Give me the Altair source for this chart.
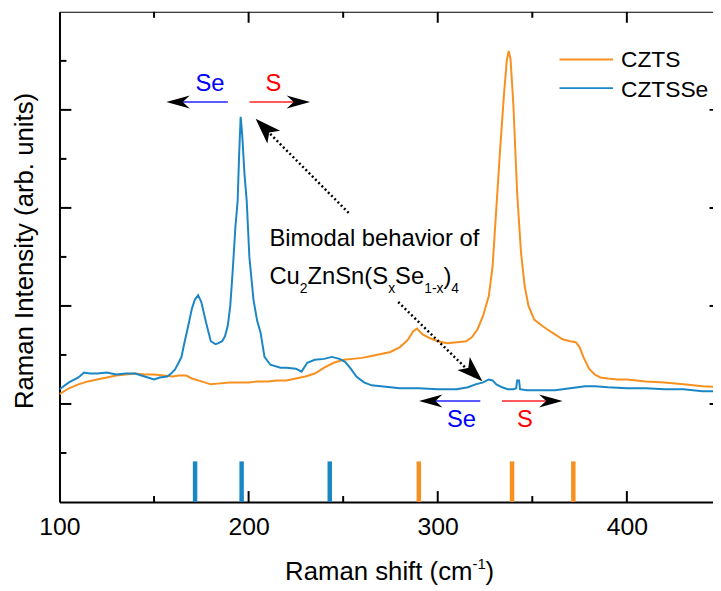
import altair as alt
import pandas as pd

# ---------------- data ----------------
czts_x = [100, 105, 110, 115, 120, 125, 130, 135, 140, 145, 150, 155, 160, 163, 167, 170, 175, 180, 185, 190,
          195, 200, 205, 210, 215, 220, 225, 230, 235, 240, 245, 250, 255, 260, 265, 270, 275, 280, 284, 287,
          289, 292, 296, 300, 305, 310, 315, 318, 321, 324, 327, 329, 331, 333, 335, 336.5, 337.5, 338.5, 340, 342,
          344, 346, 348, 351, 355, 358, 362, 366, 370, 373, 375, 377, 380, 383, 386, 390, 395, 400, 410, 420,
          430, 440, 450]
czts_y = [1.10, 1.16, 1.20, 1.23, 1.25, 1.27, 1.29, 1.30, 1.31, 1.30, 1.30, 1.29, 1.28, 1.29, 1.29, 1.26, 1.23, 1.20, 1.21, 1.22,
          1.22, 1.22, 1.23, 1.23, 1.24, 1.24, 1.26, 1.28, 1.31, 1.37, 1.42, 1.45, 1.46, 1.47, 1.49, 1.51, 1.53, 1.58, 1.65, 1.74,
          1.77, 1.71, 1.67, 1.64, 1.62, 1.63, 1.64, 1.68, 1.76, 1.90, 2.10, 2.40, 3.00, 3.60, 4.15, 4.50, 4.60, 4.52, 4.05, 3.15,
          2.55, 2.20, 2.00, 1.86, 1.80, 1.76, 1.71, 1.66, 1.64, 1.63, 1.58, 1.48, 1.36, 1.30, 1.27, 1.26, 1.25, 1.25, 1.23, 1.22,
          1.20, 1.18, 1.17]

cztsse_x = [100, 105, 110, 113, 116, 120, 125, 130, 135, 140, 145, 150, 153, 157, 159, 161, 163, 164.5, 166, 168,
            170, 171.5, 173.3, 175, 177.5, 180, 182.5, 184, 186, 187.5, 189, 190.3, 191.6, 193, 194.2, 195, 195.8, 196.6, 197.8, 199,
            200.4, 202.6, 204.5, 206.3, 208.4, 211.5, 216.8, 220, 225, 228, 231, 235, 240, 244, 248, 251, 254, 257, 261, 265,
            270, 275, 280, 290, 300, 310, 316, 320, 324, 327, 329, 331, 334, 337, 340, 341.5, 342, 343, 343.5, 347,
            355, 362, 370, 378, 383, 390, 400, 410, 420, 430, 440, 450]
cztsse_y = [1.15, 1.22, 1.27, 1.32, 1.31, 1.31, 1.32, 1.30, 1.31, 1.31, 1.28, 1.25, 1.27, 1.28, 1.31, 1.35, 1.42, 1.48, 1.62, 1.79,
            1.97, 2.06, 2.11, 2.04, 1.83, 1.64, 1.61, 1.62, 1.64, 1.69, 1.80, 2.00, 2.36, 2.80, 3.07, 3.55, 3.93, 3.75, 3.35, 3.07,
            2.50, 2.06, 1.85, 1.73, 1.48, 1.40, 1.37, 1.37, 1.36, 1.33, 1.42, 1.45, 1.46, 1.48, 1.46, 1.43, 1.36, 1.28, 1.22, 1.19,
            1.18, 1.17, 1.16, 1.16, 1.15, 1.15, 1.17, 1.20, 1.22, 1.25, 1.24, 1.20, 1.17, 1.15, 1.15, 1.16, 1.24, 1.24, 1.15, 1.14,
            1.14, 1.14, 1.16, 1.18, 1.18, 1.17, 1.16, 1.16, 1.15, 1.15, 1.13, 1.13]

series_names = ["CZTS", "CZTSSe"]
series_colors = ["#F7901E", "#1B86C6"]
czts_modes = [290.0, 339.3, 371.7]
cztsse_modes = [171.7, 196.3, 242.9]

x_tick_labels = [100, 200, 300, 400]
x_minor = [150, 250, 350]
y_major = [1, 2, 3, 4]
y_minor = [0.5, 1.5, 2.5, 3.5, 4.5]

# ---------------- layout ----------------
W, H = 660, 495
XR = 668.5                      # x range of domain 100..450 (right part is cut off)
K = 350 / XR                    # data units per pixel along x
FONT = "Liberation Sans"

xs = alt.Scale(domain=[100, 450], range=[0, XR], nice=False, zero=False)
ys = alt.Scale(domain=[0, 5], nice=False, zero=False)
cs = alt.Scale(domain=series_names, range=series_colors)

XAX = alt.Axis(
    values=x_tick_labels, ticks=False, tickSize=0, grid=False, domainColor="black", domainWidth=2,
    labelFontSize=25, labelColor="black", labelPadding=13, labelFont=FONT, labelFlush=False, format="d",
    title=None)
YAX = alt.Axis(
    labels=False, ticks=False, grid=False, domainColor="black", domainWidth=2,
    title="Raman Intensity (arb. units)", titleFontSize=26, titleFontWeight="normal", titleColor="black",
    titleFont=FONT, titleAngle=270, titleX=-27, titleY=241, titleAlign="center", titleBaseline="alphabetic")


def X(f="x"):
    return alt.X(f + ":Q", scale=xs, axis=XAX)


def Y(f="y"):
    return alt.Y(f + ":Q", scale=ys, axis=YAX)


curve_df = pd.concat([
    pd.DataFrame({"x": czts_x, "y": czts_y, "series": series_names[0]}),
    pd.DataFrame({"x": cztsse_x, "y": cztsse_y, "series": series_names[1]}),
])

curves = alt.Chart(curve_df).mark_line(strokeWidth=2, clip=True).encode(
    x=X(), y=Y(), color=alt.Color("series:N", scale=cs, legend=None))

# frame top line
top_frame = alt.Chart(pd.DataFrame({"a": [0]})).mark_rule(color="black", strokeWidth=2, clip=True).encode(
    x=alt.value(0), x2=alt.value(XR), y=alt.value(0))


# inward ticks
def xticks(vals, y0, y1):
    return alt.Chart(pd.DataFrame({"x": vals})).mark_rule(color="black", strokeWidth=2).encode(
        x=X(), y=alt.value(y0), y2=alt.value(y1))


def yticks(vals, x0, x1, clip=False):
    return alt.Chart(pd.DataFrame({"y": vals})).mark_rule(color="black", strokeWidth=2, clip=clip).encode(
        y=Y(), x=alt.value(x0), x2=alt.value(x1))


tick_layers = [
    xticks(x_tick_labels[1:], H - 11, H), xticks(x_minor, H - 6, H),
    xticks(x_tick_labels[1:], 0, 11), xticks(x_minor, 0, 6),
    yticks(y_major, 0, 12), yticks(y_minor, 0, 7),
    yticks(y_major, XR - 12, XR, clip=True), yticks(y_minor, XR - 7, XR, clip=True),
]

# x-axis title with a real superscript
xt_df = pd.DataFrame({"t": ["Raman shift (cm", "-1", ")"],
                      "x": [219.3, 318.4, 325.3], "y": [-0.798, -0.687, -0.798], "fs": [26, 15, 26]})
xtitle = alt.Chart(xt_df).mark_text(align="left", baseline="alphabetic", font=FONT, color="black").encode(
    x=X(), y=Y(), text="t:N", size=alt.Size("fs:Q", scale=None))

# phonon mode bars
modes_df = pd.concat([
    pd.DataFrame({"x": czts_modes, "series": series_names[0]}),
    pd.DataFrame({"x": cztsse_modes, "series": series_names[1]}),
])
modes = alt.Chart(modes_df).mark_rule(strokeWidth=4.5).encode(
    x=X(), y=alt.value(H - 41), y2=alt.value(H),
    color=alt.Color("series:N", scale=cs, legend=None))

# legend (drawn)
leg_df = pd.DataFrame({"series": series_names, "y": [4.515, 4.222], "ty": [4.434, 4.131],
                       "x": [364.4, 364.4], "x2": [392.7, 392.7], "tx": [396.9, 396.9]})
leg_lines = alt.Chart(leg_df).mark_rule(strokeWidth=2).encode(
    x=X(), x2="x2:Q", y=Y(), color=alt.Color("series:N", scale=cs, legend=None))
leg_text = alt.Chart(leg_df).mark_text(align="left", baseline="alphabetic", fontSize=23, font=FONT,
                                       color="black").encode(
    x=X("tx"), y=Y("ty"), text="series:N")

# Se / S arrows
arr_df = pd.DataFrame({"x": [164.4, 200.5, 297.9, 334.0], "x2": [189.0, 225.7, 322.5, 358.1],
                       "y": [4.081, 4.081, 1.030, 1.030],
                       "c": ["#5A5AFF", "#FF5A5A", "#5A5AFF", "#FF5A5A"]})
arr_lines = alt.Chart(arr_df).mark_rule(strokeWidth=2).encode(
    x=X(), x2="x2:Q", y=Y(), y2="y:Q", color=alt.Color("c:N", scale=None))

heads_df = pd.DataFrame({"x": [156.5, 232.5, 290.1, 366.0], "y": [4.081, 4.081, 1.030, 1.030],
                         "a": [180, 0, 180, 0]})
heads = alt.Chart(heads_df).mark_point(shape="M0,0L-2,-0.55L-1.4,0L-2,0.55Z", filled=True, color="black",
                                       opacity=1, size=560, strokeWidth=0).encode(
    x=X(), y=Y(), angle=alt.Angle("a:Q", scale=None))

# dotted arrows
dot_df = pd.DataFrame({"x": [252.9, 279.1], "y": [2.949, 2.040], "x2": [206.0, 320.5], "y2": [3.86, 1.26]})
dots = alt.Chart(dot_df).mark_rule(strokeWidth=2.5, strokeDash=[2, 2.6], color="black").encode(
    x=X(), y=Y(), x2="x2:Q", y2="y2:Q")
dhead_df = pd.DataFrame({"x": [203.7, 323.6], "y": [3.909, 1.232], "a": [225.3, 43.3]})
dheads = alt.Chart(dhead_df).mark_point(shape="M0,0L-2,-0.7L-1.5,0L-2,0.7Z", filled=True, color="black",
                                        opacity=1, size=680, strokeWidth=0).encode(
    x=X(), y=Y(), angle=alt.Angle("a:Q", scale=None))

# texts
lab_df = pd.DataFrame({"t": ["Se", "S", "Se", "S"], "x": [179.6, 213.1, 312.6, 346.1],
                       "y": [4.19, 4.19, 0.768, 0.768], "c": ["#0000FF", "#FF0000", "#0000FF", "#FF0000"]})
labels = alt.Chart(lab_df).mark_text(align="center", baseline="alphabetic", fontSize=24, font=FONT).encode(
    x=X(), y=Y(), text="t:N", color=alt.Color("c:N", scale=None))

seg_text = ["Bimodal behavior of", "Cu", "2", "ZnSn(S", "x", "Se", "1-x", ")", "4"]
seg_dx = [0, 0, 30.7, 38.5, 119.9, 126.9, 156.3, 175.7, 183.7]
seg_sub = [0, 0, 1, 0, 1, 0, 1, 0, 1]
seg_line = [0, 1, 1, 1, 1, 1, 1, 1, 1]
x0 = 211.0
seg_df = pd.DataFrame({
    "t": seg_text,
    "x": [x0 + d * K for d in seg_dx],
    "y": [2.616 if ln == 0 else (2.131 if s else 2.222) for ln, s in zip(seg_line, seg_sub)],
    "fs": [14 if s else 24 for s in seg_sub],
})
note = alt.Chart(seg_df).mark_text(align="left", baseline="alphabetic", font=FONT, color="black").encode(
    x=X(), y=Y(), text="t:N", size=alt.Size("fs:Q", scale=None))

chart = alt.layer(
    curves, top_frame, *tick_layers, xtitle, modes, leg_lines, leg_text, arr_lines, heads, dots, dheads,
    labels, note
).properties(
    width=W, height=H,
    padding={"left": 52, "top": 1, "right": 0, "bottom": 86},
    autosize=alt.AutoSizeParams(type="none"),
).configure(font=FONT).configure_view(stroke=None)

chart.save("out.html", embed_options={"renderer": "svg", "actions": False})
